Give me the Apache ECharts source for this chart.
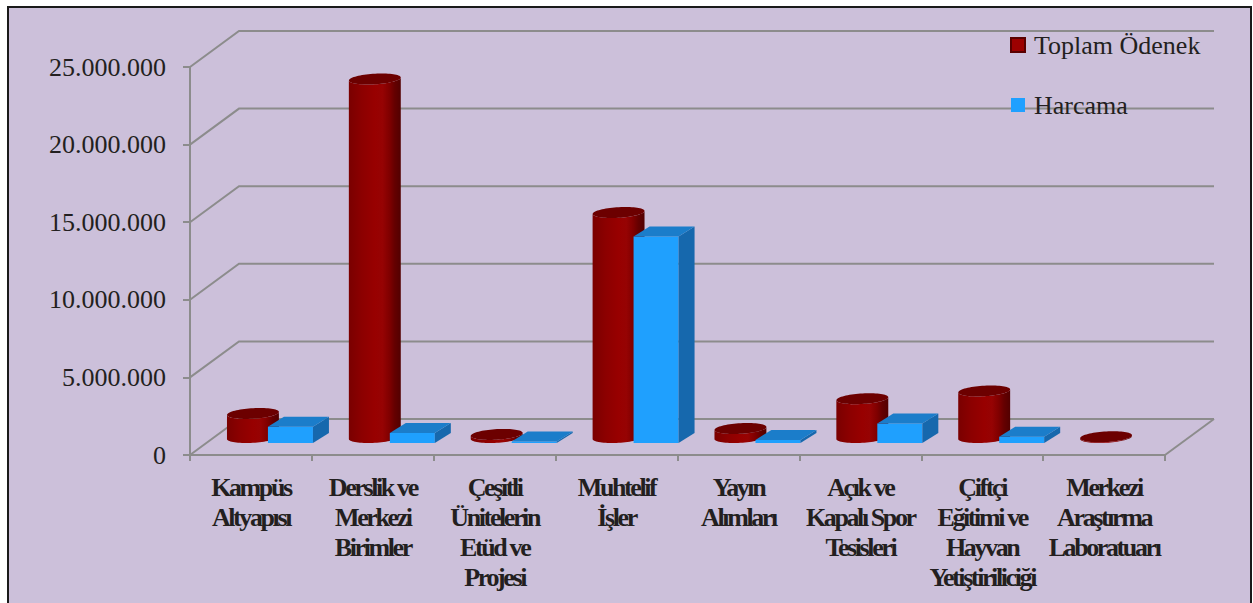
<!DOCTYPE html>
<html><head><meta charset="utf-8">
<script src="https://cdn.jsdelivr.net/npm/echarts@6/dist/echarts.min.js"></script>
<style>
html,body{margin:0;padding:0;background:#fff}
#c{width:1253px;height:603px}
#c svg text[style*="bold"]{letter-spacing:-2.4px}
</style>
</head><body><div id="c"></div>
<script>
const categories = [
  'Kampüs\nAltyapısı',
  'Derslik ve\nMerkezi\nBirimler',
  'Çeşitli\nÜnitelerin\nEtüd ve\nProjesi',
  'Muhtelif\nİşler',
  'Yayın\nAlımları',
  'Açık ve\nKapalı Spor\nTesisleri',
  'Çiftçi\nEğitimi ve\nHayvan\nYetiştiriliciği',
  'Merkezi\nAraştırma\nLaboratuarı'
];
const toplamOdenek = [1550000, 23100000, 200000, 14500000, 580000, 2500000, 3000000, 50000];
const harcama      = [1050000,   650000, 100000, 13300000, 200000, 1250000,  400000,     0];
const yTicks = [0, 5000000, 10000000, 15000000, 20000000, 25000000];
const seriesNames = ['Toplam Ödenek', 'Harcama'];

const DX = 49, DY = 36;      // wall depth in pixels
const BAR_UP = 12;           // bars' base offset into depth
const GRID_COLOR = '#8c8c8c';

function fmt(v){ return String(v).replace(/\B(?=(\d{3})+(?!\d))/g, '.'); }

function renderGrid(params, api){
  const cs = params.coordSys;
  const v = api.value(1);
  const y = api.coord([0, v])[1];
  const x0 = cs.x, x1 = cs.x + cs.width;
  const children = [{type:'polyline', shape:{points:[[x0,y],[x0+DX,y-DY],[x1+DX,y-DY]]},
    style:{stroke:GRID_COLOR, lineWidth:2, fill:null}}];
  if (v === 0) children.push({type:'line', shape:{x1:x1, y1:y, x2:x1+DX, y2:y-DY},
    style:{stroke:GRID_COLOR, lineWidth:2}});
  return {type:'group', children};
}

const redGrad = {type:'linear', x:0, y:0, x2:1, y2:0, colorStops:[
  {offset:0, color:'#7a0000'}, {offset:0.25, color:'#8c0000'}, {offset:0.5, color:'#980000'},
  {offset:0.65, color:'#960303'}, {offset:0.78, color:'#800000'}, {offset:0.88, color:'#650000'},
  {offset:1, color:'#520000'}]};

function renderCyl(params, api){
  const i = api.value(0), v = api.value(1);
  const p0 = api.coord([i, 0]), p1 = api.coord([i, v]);
  const h = p0[1] - p1[1];
  const base = p0[1] - BAR_UP;
  const a = 25, b = 7, e = 5.5;
  const mx = p0[0] + 2;
  const cyb = base - e, cyt = cyb - h;
  const t0 = Math.atan2(b, a);
  const pt = (cy, t) => [mx + a*Math.cos(t) + b*Math.sin(t), cy - e*Math.sin(t)];
  const N = 36;
  const body = [];
  for (let k = 0; k <= N; k++) body.push(pt(cyb, t0 + Math.PI + Math.PI*k/N));
  for (let k = N; k >= 0; k--) body.push(pt(cyt, t0 + Math.PI + Math.PI*k/N));
  const top = [];
  for (let k = 0; k < 2*N; k++) top.push(pt(cyt, Math.PI*k/N));
  return {type:'group', children:[
    {type:'polygon', shape:{points:body}, style:{fill:redGrad}},
    {type:'polygon', shape:{points:top}, style:{fill:'#6c0000'}}
  ]};
}

function renderBox(params, api){
  const i = api.value(0), v = api.value(1);
  if (!(v > 0)) return null;
  const p0 = api.coord([i, 0]), p1 = api.coord([i, v]);
  const h = p0[1] - p1[1];
  const yb = p0[1] - BAR_UP, yt = yb - h;
  const x0 = p0[0] + 17, x1 = p0[0] + 62, dx = 16, dy = 10;
  return {type:'group', children:[
    {type:'polygon', shape:{points:[[x0,yt],[x1,yt],[x1,yb],[x0,yb]]}, style:{fill:'#1fa0fe'}},
    {type:'polygon', shape:{points:[[x1,yt],[x1+dx,yt-dy],[x1+dx,yb-dy],[x1,yb]]}, style:{fill:'#1668ad'}},
    {type:'polygon', shape:{points:[[x0,yt],[x0+dx,yt-dy],[x1+dx,yt-dy],[x1,yt]]}, style:{fill:'#1b7dca'}}
  ]};
}

const chart = echarts.init(document.getElementById('c'), null, {renderer:'svg'});
chart.setOption({
  animation:false,
  backgroundColor:'#ffffff',
  graphic:[{type:'rect', z:-100, silent:true, shape:{x:8, y:7, width:1243, height:620},
    style:{fill:'#ccc0da', stroke:'#1a1a1a', lineWidth:2}}],
  grid:{left:190, right:88, top:67, bottom:148, containLabel:false},
  legend:{data:seriesNames, orient:'vertical', left:1010, top:32, padding:0, itemGap:34,
    itemWidth:14, itemHeight:14, icon:'rect',
    textStyle:{fontSize:26, fontFamily:'Liberation Serif', color:'#231f20', padding:[0,0,0,4]}},
  xAxis:{type:'category', data:categories, boundaryGap:true,
    axisLine:{show:true, lineStyle:{color:GRID_COLOR, width:2}},
    axisTick:{show:true, length:6, lineStyle:{color:GRID_COLOR, width:2}},
    axisLabel:{interval:0, margin:17, fontSize:26, fontWeight:'bold', fontFamily:'Liberation Serif',
      lineHeight:30, color:'#231f20'},
    splitLine:{show:false}},
  yAxis:{type:'value', min:0, max:25000000, interval:5000000,
    axisLine:{show:true, lineStyle:{color:GRID_COLOR, width:2}},
    axisTick:{show:true, length:7, lineStyle:{color:GRID_COLOR, width:2}},
    splitLine:{show:false},
    axisLabel:{margin:24, fontSize:26, fontFamily:'Liberation Serif', color:'#231f20', formatter:fmt}},
  series:[
    {type:'custom', name:'grid3d', silent:true, z:1, clip:false,
      data:yTicks.map(v => [0, v]), renderItem:renderGrid},
    {type:'custom', name:seriesNames[0], z:3, clip:false,
      itemStyle:{color:'#9c0000', borderColor:'#5a0000', borderWidth:1},
      data:toplamOdenek.map((v, i) => [i, v]), renderItem:renderCyl},
    {type:'custom', name:seriesNames[1], z:4, clip:false,
      itemStyle:{color:'#1fa0ff'},
      data:harcama.map((v, i) => [i, v]), renderItem:renderBox}
  ]
});
</script>
</body></html>
